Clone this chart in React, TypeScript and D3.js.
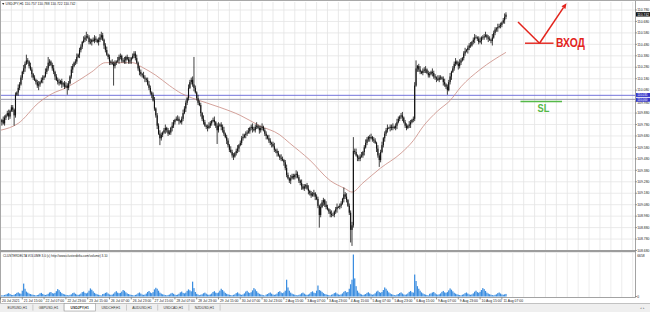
import React, { useEffect } from "react";
import * as d3 from "d3";

// ---- data ----
const symbolTitle = "USDJPY,H1  110.757 110.788 110.722 110.742";
const volumeTitle = "CLUSTERDELTA VOLUME 3.0 (c) http://www.clusterdelta.com/volume) 3.10";

const firstOpen = 109.78;
const closes = [
  109.80, 109.82, 109.79, 109.84, 109.86, 109.88, 109.85, 109.90, 109.93, 109.91, 109.86,
  110.04, 110.06, 110.10, 110.13, 110.19, 110.24, 110.27, 110.31, 110.34, 110.33, 110.29,
  110.26, 110.22, 110.19, 110.17, 110.15, 110.12, 110.13, 110.15, 110.17,
  110.19, 110.20, 110.24, 110.27, 110.32, 110.33, 110.30, 110.27, 110.24, 110.20,
  110.17, 110.15, 110.14, 110.16, 110.13, 110.14, 110.11, 110.12, 110.10, 110.14, 110.20, 110.26,
  110.29, 110.32, 110.33, 110.37, 110.39, 110.43, 110.46, 110.50, 110.52, 110.54, 110.55, 110.54, 110.50,
  110.50, 110.52, 110.51, 110.53, 110.52, 110.50, 110.52, 110.54, 110.56, 110.52, 110.47,
  110.43, 110.39, 110.37, 110.33, 110.32, 110.31, 110.29, 110.32, 110.33, 110.34,
  110.37, 110.38, 110.34, 110.33, 110.34, 110.37, 110.35, 110.33, 110.34, 110.36, 110.38, 110.40, 110.36,
  110.32, 110.27, 110.24, 110.22, 110.21, 110.19, 110.18, 110.17, 110.13, 110.10, 110.06,
  110.04, 109.99, 109.92, 109.86, 109.77, 109.70, 109.66, 109.69,
  109.71, 109.73, 109.75, 109.73, 109.70, 109.71, 109.75, 109.77, 109.80, 109.82, 109.83, 109.83,
  109.81, 109.80, 109.83, 109.88, 109.92, 109.97, 110.01, 110.10, 110.15, 110.17, 110.13,
  110.10, 110.06, 110.01, 109.97, 109.95, 109.88, 109.83, 109.80, 109.77, 109.76, 109.75,
  109.77, 109.79, 109.81, 109.82, 109.80, 109.77, 109.73, 109.77, 109.78, 109.76,
  109.73, 109.70, 109.67, 109.64, 109.60, 109.56, 109.54, 109.51, 109.50, 109.53,
  109.55, 109.57, 109.60, 109.62, 109.66, 109.67, 109.69, 109.70, 109.71, 109.72, 109.75, 109.76, 109.74, 109.73,
  109.76, 109.77, 109.75, 109.73, 109.75, 109.76, 109.73, 109.70, 109.68, 109.66, 109.64,
  109.62, 109.61, 109.59, 109.56, 109.55, 109.53, 109.51, 109.49, 109.48, 109.47, 109.45, 109.40, 109.34,
  109.31, 109.29, 109.31, 109.33, 109.32, 109.34, 109.35, 109.32, 109.29, 109.27,
  109.24, 109.22, 109.24, 109.25, 109.22, 109.20, 109.18, 109.16, 109.17, 109.18, 109.15, 109.13, 109.07,
  108.99, 109.06, 109.10, 109.12, 109.08, 109.06, 109.04, 109.02, 109.00, 108.99, 108.99,
  109.02, 109.04, 109.06, 109.06, 109.07, 109.09, 109.13, 109.17, 109.15, 109.12, 109.07, 109.01,
  108.86, 108.90, 109.55,
  109.54, 109.51, 109.49, 109.48, 109.50, 109.51, 109.54, 109.58, 109.62, 109.65, 109.67,
  109.66, 109.67, 109.65, 109.64, 109.62, 109.57, 109.51, 109.47, 109.54, 109.60, 109.66,
  109.70, 109.73, 109.75, 109.75, 109.76, 109.75, 109.76, 109.75, 109.77, 109.80, 109.83, 109.85,
  109.86, 109.84, 109.80, 109.77, 109.75, 109.77, 109.78, 109.80, 109.82, 109.83, 110.12, 110.27,
  110.29, 110.26, 110.24, 110.23, 110.25, 110.26, 110.26, 110.23, 110.21, 110.22, 110.24,
  110.23, 110.20, 110.19, 110.18, 110.17, 110.19, 110.19, 110.18, 110.15, 110.13, 110.11, 110.08, 110.15, 110.20, 110.24,
  110.27, 110.31, 110.33, 110.31, 110.29, 110.32, 110.34, 110.36, 110.40, 110.42, 110.43, 110.45, 110.47, 110.47,
  110.50, 110.52, 110.54, 110.54, 110.53, 110.50, 110.51, 110.54, 110.54, 110.55, 110.56, 110.54, 110.53,
  110.52, 110.51, 110.54, 110.58, 110.61, 110.62, 110.63, 110.64, 110.65, 110.67, 110.69, 110.72, 110.74,
];

// wicks beyond the body, in pips (0.01)
const wickUp = [
  2,1,3,2,1,2,3,1,2,2,1,2,1,3,2,2,1,3,2,5,
  2,1,3,2,1,2,1,2,3,1,2,2,1,3,2,5,2,1,2,3,
  1,2,2,3,1,2,1,2,3,2,2,1,3,2,1,2,3,1,2,2,
  1,3,2,4,2,2,3,1,2,3,2,1,2,3,3,2,1,2,3,1,
  2,1,3,2,2,1,3,2,2,1,2,3,1,2,2,3,1,2,2,2,
  3,1,2,2,1,3,2,1,2,3,2,1,2,3,1,2,2,3,2,1,
  2,3,1,2,2,1,3,2,1,2,3,2,1,2,3,2,2,1,3,2,
  2,3,24,2,1,3,2,2,1,3,2,1,2,3,2,1,2,3,1,2,
  3,1,2,2,3,1,2,2,1,3,2,2,1,2,3,1,2,2,3,1,
  2,2,3,1,2,3,2,2,3,1,2,2,3,1,2,2,1,3,2,1,
  2,3,1,2,2,1,3,2,1,2,3,2,1,3,2,2,1,3,2,2,
  1,3,2,2,1,2,3,1,2,2,3,1,2,2,1,3,2,2,1,3,
  2,1,2,3,2,1,2,3,1,2,2,1,6,2,3,1,2,2,3,12,
  2,3,1,2,2,3,1,2,3,2,1,2,3,1,2,2,1,3,2,2,
  3,1,2,2,3,1,2,2,3,1,2,3,2,1,2,3,1,2,2,1,
  3,2,1,2,3,7,1,2,3,1,2,2,3,1,2,2,1,3,2,2,
  1,3,2,2,1,2,3,1,2,2,3,1,2,2,3,1,2,3,2,1,
  2,3,1,2,2,3,1,2,3,2,1,2,3,1,2,2,3,1,2,2,
  1,3,2,2,1,3,2,2,1,2,3,2,
];
const wickDown = [
  2,3,1,2,2,1,3,2,1,2,9,2,1,3,2,1,2,2,3,1,
  2,2,1,3,2,1,2,2,4,2,1,3,2,1,2,2,3,1,2,2,
  3,1,2,2,1,3,2,2,1,6,2,1,2,3,1,2,2,1,3,2,
  2,1,2,3,1,2,2,3,1,2,2,1,3,2,2,1,3,2,1,2,
  3,2,1,17,2,2,1,3,2,2,1,2,3,1,2,2,3,1,2,2,
  1,2,3,2,2,1,3,2,1,2,2,3,1,2,2,3,1,6,2,2,
  1,3,2,2,1,2,3,2,2,1,2,3,1,2,2,1,3,2,2,1,
  2,2,3,1,2,2,1,3,2,2,1,2,3,1,2,2,1,3,2,12,
  2,1,3,2,2,1,3,2,2,1,2,3,1,2,2,3,1,2,2,1,
  3,2,1,2,2,3,1,2,2,1,3,2,2,1,2,3,1,2,2,3,
  1,2,2,3,1,2,2,1,3,2,2,1,2,3,1,2,2,3,1,2,
  2,3,1,2,2,1,3,2,2,1,2,3,1,2,11,2,1,3,2,2,
  1,2,3,2,1,2,2,3,1,2,2,1,3,2,2,1,2,11,14,2,
  2,1,3,2,2,1,2,3,1,2,2,3,1,2,2,1,3,2,6,2,
  1,2,3,2,2,1,3,2,2,1,2,3,1,2,2,3,1,2,2,1,
  2,3,1,2,2,1,3,2,2,1,2,2,3,1,2,2,1,3,2,2,
  3,1,2,2,1,3,2,2,4,1,2,3,1,2,2,1,3,2,2,1,
  2,2,1,3,2,2,1,2,3,1,2,2,1,3,2,2,1,2,3,1,
  2,4,1,2,2,3,1,2,2,1,3,2,
];

const volumes = [
  220, 180, 160,
  240,310,420,520,380,260,230,280,390,560,640,480,430,900,2000,1200,760,600,450,380,300,260,210,160,
  230,290,480,560,400,280,240,300,420,620,700,520,460,560,820,1150,980,720,520,400,320,260,220,170,
  260,330,520,600,420,300,250,310,450,680,760,560,480,600,900,1250,1050,800,560,420,330,270,210,150,
  380,420,560,640,460,320,260,300,440,650,820,600,500,560,760,1000,880,650,480,380,300,250,200,160,
  250,320,500,620,450,300,260,300,460,700,850,620,520,680,1100,1350,1200,900,600,450,340,280,220,170,
  240,300,460,560,420,290,240,290,430,640,760,560,480,600,880,1100,950,800,2300,1300,700,420,300,200,
  280,340,500,600,440,300,260,320,460,700,820,600,520,620,900,1200,1000,780,560,420,330,270,220,170,
  260,330,520,640,460,320,260,320,480,760,880,640,540,660,950,1300,1100,820,580,420,320,260,200,140,
  300,380,520,620,440,300,260,320,460,700,820,620,520,640,900,2600,1400,900,600,440,340,280,220,170,
  260,330,500,600,440,300,250,310,450,680,800,600,520,900,1700,1000,900,720,520,400,320,260,210,160,
  280,350,520,620,460,320,270,330,480,720,860,640,700,1200,1900,2600,6500,2800,1600,900,600,420,320,220,
  300,380,560,660,480,340,280,340,500,760,900,680,580,700,1000,1400,1200,900,640,480,360,290,230,170,
  300,380,540,640,460,320,270,330,480,720,860,660,600,3400,2400,1600,1200,900,640,480,360,290,230,160,
  420,480,620,700,500,340,280,340,480,720,860,640,560,680,950,1250,1050,800,580,440,340,280,220,170,
  280,350,520,620,460,320,270,330,480,740,900,680,580,720,1000,1300,1150,860,600,460,350,280,220,170,
  260,340,520,620,460,320,270,330,400,
];
const volumeMax = 6658;

// moving average (bar index, value)
const maBars = [0, 13, 28, 38, 48, 58, 67, 77, 87, 97, 104, 114, 124, 133, 141, 151, 161, 176, 190, 205, 212, 227, 242, 253, 258, 266, 279, 294, 303, 310, 321, 330, 338, 352, 371];
const maValues = [109.73, 109.79, 109.97, 110.05, 110.10, 110.17, 110.24, 110.32, 110.32, 110.32, 110.28, 110.21, 110.12, 110.05, 110.01, 109.97, 109.93, 109.86, 109.77, 109.69, 109.62, 109.47, 109.29, 109.22, 109.19, 109.27, 109.40, 109.53, 109.64, 109.76, 109.90, 109.99, 110.11, 110.26, 110.41];

const priceTicks = [110.78, 110.68, 110.58, 110.48, 110.38, 110.28, 110.18, 110.08, 109.98, 109.88, 109.78, 109.68, 109.58, 109.48, 109.38, 109.28, 109.18, 109.08, 108.98, 108.88, 108.78, 108.68];
const timeLabels = ["20 Jul 2021", "21 Jul 15:00", "22 Jul 07:00", "22 Jul 23:00", "23 Jul 15:00", "26 Jul 07:00", "26 Jul 23:00", "27 Jul 15:00", "28 Jul 07:00", "28 Jul 23:00", "29 Jul 15:00", "30 Jul 07:00", "30 Jul 23:00", "2 Aug 15:00", "3 Aug 07:00", "3 Aug 23:00", "4 Aug 15:00", "5 Aug 07:00", "5 Aug 23:00", "6 Aug 15:00", "9 Aug 07:00", "9 Aug 23:00", "10 Aug 15:00", "11 Aug 07:00"];
const tabs = ["EURUSD,H1", "GBPUSD,H1", "USDJPY,H1", "USDCHF,H1", "AUDUSD,H1", "USDCAD,H1", "NZDUSD,H1"];
const activeTab = 2;
const levelUpper = 110.035;
const levelLower = 110.0;
const lastPrice = 110.742;
const entryLabel = "ВХОД";
const stopLabel = "SL";
// hand-drawn marks (price levels where they sit on the chart)
const entryPrice = 110.49;
const arrowStartPrice = 110.675;
const arrowTipPrice = 110.84;
const stopPrice = 109.98;

export default function App() {
  useEffect(() => {
    document.body.style.margin = "0";
  }, []);

  const W = 650, H = 312;
  const plotRight = 635.5;
  const x = d3.scaleLinear().domain([0, 466]).range([0.5, 635.4]);
  const y = d3.scaleLinear().domain([108.68, 110.78]).range([250.5, 10]);
  const yv = d3.scaleLinear().domain([0, volumeMax]).range([296.5, 253.5]);
  const slot = x(1) - x(0);

  const bars = closes.map((c, i) => {
    const o = i === 0 ? firstOpen : closes[i - 1];
    const hi = Math.max(o, c) + (wickUp[i] ?? 1) * 0.01;
    const lo = Math.min(o, c) - (wickDown[i] ?? 1) * 0.01;
    return { i, o, c, hi, lo };
  });

  const maLine = d3
    .line<number>()
    .x((_, k) => x(maBars[k]))
    .y((v) => y(v))
    .curve(d3.curveMonotoneX)(maValues) || "";

  const gridX = d3.range(0, 466, 8);
  const font = "Liberation Sans, Arial, sans-serif";
  const fs = 3.4;

  const tabW = 31.2;
  const red = "#e3241c";
  const green = "#55b948";

  const yEntry = y(entryPrice);
  const ySL = y(stopPrice);

  // arrow geometry
  const vx = 539.5, vy = yEntry;
  const tx = 566.5, ty = y(arrowTipPrice);
  const dx = tx - vx, dy = ty - vy;
  const len = Math.hypot(dx, dy);
  const ux = dx / len, uy = dy / len;
  const hb = 5.5, hw = 2.4;
  const bx = tx - ux * hb, by = ty - uy * hb;
  const head = `M ${tx} ${ty} L ${bx - uy * hw} ${by + ux * hw} L ${bx + uy * hw} ${by - ux * hw} Z`;

  // nudge axis labels that sit right next to the level boxes
  const boxYs = [y(levelUpper), y(levelLower)];
  const labelY = (p: number) => {
    const py = y(p);
    const near = boxYs.find((b) => Math.abs(b - py) < 3.5);
    if (near === undefined) return py + 1.2;
    return py > near ? py + 2.2 : py + 0.2;
  };

  return (
    <svg
      width={W}
      height={H}
      viewBox={`0 0 ${W} ${H}`}
      style={{ display: "block", position: "absolute", left: 0, top: 0, background: "#fff" }}
      fontFamily={font}
    >
      <rect x={0} y={0} width={W} height={H} fill="#fff" />
      {/* grid main */}
      {gridX.map((g) => (
        <line key={"gx" + g} x1={x(g)} x2={x(g)} y1={2} y2={250} stroke="#e4e4e4" strokeWidth={0.8} />
      ))}
      {priceTicks.map((p) => (
        <line key={"gy" + p} x1={1} x2={plotRight} y1={y(p)} y2={y(p)} stroke="#e4e4e4" strokeWidth={0.8} />
      ))}
      {/* grid volume */}
      {gridX.map((g) => (
        <line key={"vgx" + g} x1={x(g)} x2={x(g)} y1={253} y2={297} stroke="#e8e8e8" strokeWidth={0.8} />
      ))}

      {/* horizontal levels */}
      <line x1={1} x2={plotRight} y1={y(levelUpper)} y2={y(levelUpper)} stroke="#6464d6" strokeWidth={0.9} />
      <line x1={1} x2={plotRight} y1={y(levelLower)} y2={y(levelLower)} stroke="#8a8aa6" strokeWidth={0.9} />

      {/* moving average */}
      <path d={maLine} fill="none" stroke="#c98a82" strokeWidth={0.8} />

      {/* candles */}
      {bars.map((b) => {
        const cx = x(b.i);
        const top = y(Math.max(b.o, b.c));
        const bot = y(Math.min(b.o, b.c));
        return (
          <g key={"c" + b.i}>
            <line x1={cx} x2={cx} y1={y(b.hi)} y2={y(b.lo)} stroke="#111" strokeWidth={0.8} />
            <rect x={cx - slot * 0.4} y={top} width={slot * 0.8} height={Math.max(0.6, bot - top)} fill="#111" />
          </g>
        );
      })}

      {/* volumes */}
      {volumes.map((v, i) => (
        <rect key={"v" + i} x={x(i) - slot * 0.45} y={yv(v)} width={slot * 0.9} height={yv(0) - yv(v)} fill="#3a8de0" />
      ))}

      {/* annotations */}
      <line x1={518} x2={vx} y1={y(arrowStartPrice)} y2={vy} stroke={red} strokeWidth={1.5} />
      <line x1={vx} x2={bx} y1={vy} y2={by} stroke={red} strokeWidth={1.5} />
      <path d={head} fill={red} />
      <line x1={525} x2={553.5} y1={yEntry} y2={yEntry} stroke={red} strokeWidth={1.4} />
      <text x={556} y={yEntry + 4} fontSize={12} fontWeight="bold" fill={red} textLength={29} lengthAdjust="spacingAndGlyphs">
        {entryLabel}
      </text>
      <line x1={520.5} x2={562} y1={ySL} y2={ySL} stroke={green} strokeWidth={1.5} />
      <text x={537.5} y={ySL + 10} fontSize={10.5} fontWeight="bold" fill={green} textLength={11.8} lengthAdjust="spacingAndGlyphs">
        {stopLabel}
      </text>

      {/* frame */}
      <line x1={0} x2={W} y1={0.5} y2={0.5} stroke="#a8a8a8" strokeWidth={1} />
      <line x1={0.5} x2={0.5} y1={0} y2={303} stroke="#a8a8a8" strokeWidth={1} />
      <line x1={plotRight} x2={plotRight} y1={1} y2={297.5} stroke="#8c8c8c" strokeWidth={0.8} />
      <rect x={0} y={250} width={plotRight} height={2.2} fill="#9c9c9c" />
      <line x1={0} x2={plotRight} y1={297.5} y2={297.5} stroke="#8c8c8c" strokeWidth={0.8} />

      {/* title texts */}
      <path d="M 2 3 L 4.4 3 L 3.2 5 Z" fill="#333" />
      <text x={5.5} y={5.4} fontSize={fs} fill="#222">{symbolTitle}</text>
      <text x={3} y={256.6} fontSize={3.1} fill="#222">{volumeTitle}</text>

      {/* price axis */}
      {priceTicks.map((p) => (
        <g key={"pt" + p}>
          <line x1={plotRight} x2={plotRight + 1.5} y1={y(p)} y2={y(p)} stroke="#555" strokeWidth={0.6} />
          <text x={637.2} y={labelY(p)} fontSize={fs} fill="#222">{p.toFixed(3)}</text>
        </g>
      ))}
      {/* price boxes */}
      <rect x={636} y={y(lastPrice) - 2.2} width={14} height={4.4} fill="#111" />
      <text x={637.2} y={y(lastPrice) + 1.2} fontSize={fs} fill="#fff">{lastPrice.toFixed(3)}</text>
      <rect x={636} y={y(levelUpper) - 2.3} width={14} height={3.9} fill="#3535c9" />
      <text x={637.2} y={y(levelUpper) + 0.5} fontSize={2.9} fill="#fff">{levelUpper.toFixed(3)}</text>
      <rect x={636} y={y(levelLower) - 1.5} width={14} height={3.9} fill="#3535c9" />
      <text x={637.2} y={y(levelLower) + 1.5} fontSize={2.9} fill="#fff">{levelLower.toFixed(3)}</text>

      {/* volume axis */}
      <text x={637.2} y={257} fontSize={fs} fill="#222">{String(volumeMax)}</text>
      <line x1={plotRight} x2={plotRight + 1.5} y1={yv(0)} y2={yv(0)} stroke="#555" strokeWidth={0.6} />
      <text x={637.2} y={yv(0) + 1.2} fontSize={fs} fill="#222">0</text>

      {/* time axis */}
      {timeLabels.map((t, k) => (
        <g key={"tl" + k}>
          <line x1={x(k * 16)} x2={x(k * 16)} y1={297.5} y2={299.5} stroke="#555" strokeWidth={0.6} />
          <text x={x(k * 16) + 1.5} y={302.2} fontSize={fs} fill="#222">{t}</text>
        </g>
      ))}

      {/* tab bar */}
      <rect x={0} y={303.5} width={W} height={8.5} fill="#efefef" />
      <line x1={0} x2={W} y1={303.5} y2={303.5} stroke="#b4b4b4" strokeWidth={0.8} />
      {tabs.map((t, k) => {
        const tx0 = 1.7 + k * tabW;
        const active = k === activeTab;
        return (
          <g key={"tab" + k}>
            {active && <rect x={tx0} y={303.5} width={tabW} height={7.5} fill="#fff" stroke="#9a9a9a" strokeWidth={0.6} />}
            {!active && <line x1={tx0 + tabW} x2={tx0 + tabW} y1={304.5} y2={310.5} stroke="#b0b0b0" strokeWidth={0.6} />}
            <text x={tx0 + tabW / 2} y={308.7} fontSize={fs} textAnchor="middle" fill="#333" fontWeight={active ? "bold" : "normal"}>
              {t}
            </text>
          </g>
        );
      })}
      <text x={640} y={309} fontSize={3} fill="#888">◂ ▸</text>
    </svg>
  );
}
